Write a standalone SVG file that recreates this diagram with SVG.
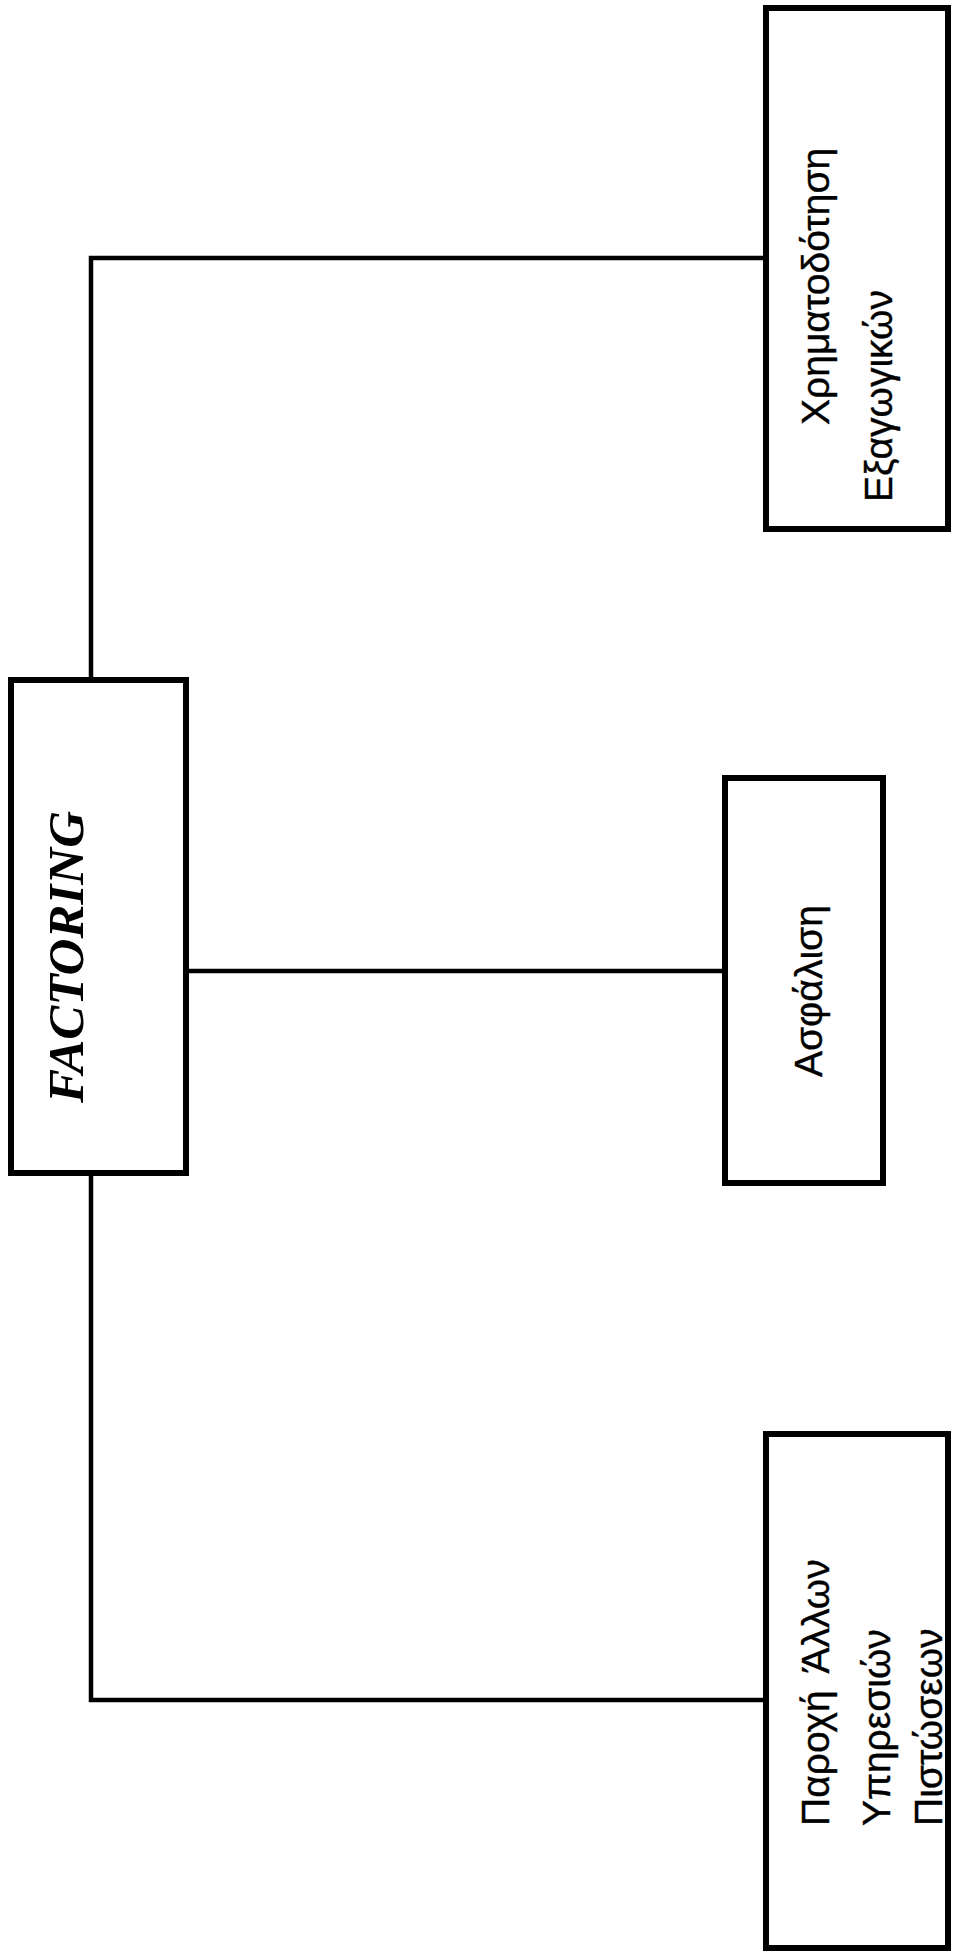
<svg xmlns="http://www.w3.org/2000/svg" width="964" height="1960" viewBox="0 0 964 1960">
<style>
.box{fill:#fff;stroke:#000;stroke-width:6}
.conn{fill:none;stroke:#000;stroke-width:4.5;stroke-linejoin:miter}
.lbl{font-family:"Liberation Sans","DejaVu Sans",sans-serif;font-size:39px;fill:#000;stroke:#000;stroke-width:0.4}
.main{font-family:"Liberation Serif","DejaVu Serif",serif;font-size:51px;font-weight:bold;font-style:italic;fill:#000}
</style>
<rect width="964" height="1960" fill="#fff"/>
<g id="connectors">
<path class="conn" d="M91,680 V258 H766"/>
<path class="conn" d="M186,971 H725"/>
<path class="conn" d="M91,1173 V1700 H766"/>
</g>
<g id="factoring">
<rect class="box" x="11" y="680" width="175" height="493"/>
<text class="main" transform="translate(83,957) rotate(-90)" text-anchor="middle">FACTORING</text>
</g>
<g id="xrimatodotisi">
<rect class="box" x="766" y="8" width="182" height="521"/>
<text class="lbl" transform="translate(829,425) rotate(-90)">Χρηματοδότηση</text>
<text class="lbl" transform="translate(892,502) rotate(-90)">Εξαγωγικών</text>
</g>
<g id="asfalisi">
<rect class="box" x="725" y="778" width="158" height="405"/>
<text class="lbl" transform="translate(822,1077) rotate(-90)">Ασφάλιση</text>
</g>
<g id="paroxi">
<rect class="box" x="766" y="1434" width="182" height="514"/>
<text class="lbl" transform="translate(829,1826) rotate(-90)">Παροχή <tspan dx="8">Άλλων</tspan></text>
<text class="lbl" transform="translate(890,1826) rotate(-90)">Υπηρεσιών</text>
<text class="lbl" transform="translate(942,1826) rotate(-90)">Πιστώσεων</text>
</g>
</svg>
